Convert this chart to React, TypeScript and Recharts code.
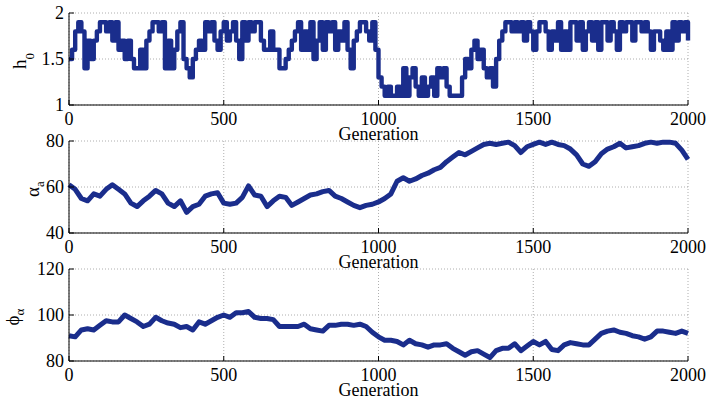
import React from 'react'
import { LineChart, Line, XAxis, YAxis, CartesianGrid } from 'recharts'

// --- sampled traces (h0 every 10 generations, the others every 20) ---
const H0_VALUES = [
  1.5, 1.6, 1.8, 1.9, 1.8, 1.4, 1.7, 1.5, 1.7, 1.8,
  1.9, 1.9, 1.8, 1.9, 1.7, 1.9, 1.6, 1.7, 1.5, 1.7,
  1.5, 1.4, 1.4, 1.6, 1.4, 1.7, 1.8, 1.9, 1.9, 1.8,
  1.9, 1.4, 1.7, 1.4, 1.6, 1.8, 1.9, 1.5, 1.4, 1.3,
  1.5, 1.6, 1.7, 1.6, 1.9, 1.8, 1.9, 1.7, 1.6, 1.8,
  1.9, 1.7, 1.8, 1.9, 1.7, 1.5, 1.9, 1.7, 1.9, 1.8,
  1.9, 1.9, 1.7, 1.6, 1.6, 1.8, 1.6, 1.6, 1.4, 1.4,
  1.5, 1.6, 1.7, 1.8, 1.9, 1.6, 1.8, 1.6, 1.9, 1.5,
  1.7, 1.9, 1.6, 1.9, 1.8, 1.9, 1.6, 1.8, 1.7, 1.9,
  1.6, 1.4, 1.7, 1.8, 1.9, 1.9, 1.8, 1.7, 1.9, 1.6,
  1.3, 1.2, 1.1, 1.2, 1.1, 1.1, 1.2, 1.1, 1.4, 1.1,
  1.3, 1.4, 1.2, 1.1, 1.3, 1.1, 1.2, 1.3, 1.1, 1.4,
  1.3, 1.4, 1.2, 1.1, 1.1, 1.1, 1.1, 1.3, 1.5, 1.4,
  1.6, 1.7, 1.5, 1.6, 1.4, 1.3, 1.4, 1.2, 1.5, 1.7,
  1.8, 1.9, 1.9, 1.8, 1.9, 1.8, 1.9, 1.7, 1.9, 1.8,
  1.6, 1.8, 1.9, 1.9, 1.8, 1.6, 1.8, 1.7, 1.9, 1.6,
  1.8, 1.6, 1.9, 1.9, 1.7, 1.9, 1.6, 1.8, 1.9, 1.7,
  1.9, 1.6, 1.9, 1.9, 1.7, 1.9, 1.8, 1.6, 1.9, 1.8,
  1.9, 1.9, 1.7, 1.9, 1.9, 1.8, 1.9, 1.8, 1.6, 1.8,
  1.8, 1.7, 1.6, 1.8, 1.6, 1.9, 1.7, 1.9, 1.8, 1.9,
  1.7,
]

const ALPHA_VALUES = [
  61, 59, 55, 54, 57, 56, 59, 61, 59, 57,
  53, 51.5, 54, 56, 58.5, 57, 53, 51.5, 54, 49,
  51.5, 52.5, 56, 57, 57.5, 53, 52.5, 53, 55.5, 60.5,
  56.5, 56, 51.5, 54, 56, 55.5, 52, 53.5, 55, 56.5,
  57, 58, 58.5, 56, 55, 53.5, 52, 51, 52, 52.5,
  53.5, 55, 57, 62.5, 64, 62.5, 63.5, 65, 66, 67.5,
  68.5, 71, 73, 75, 74, 75.5, 77, 78.5, 79, 78.5,
  79, 79.5, 78, 75, 77.5, 78.5, 79.5, 78.5, 79.5, 78.5,
  78, 76.5, 74, 70, 69, 71, 74.5, 76.5, 77.5, 79,
  77, 77.5, 78, 79, 79.5, 79, 79.5, 79.5, 79, 76,
  72,
]

const PHI_VALUES = [
  91, 90.5, 93.5, 94, 93.5, 95.5, 97.5, 97, 97, 100,
  98.5, 97, 95, 96, 99, 97.5, 96.5, 96, 94.5, 95,
  93.5, 97, 96, 97.5, 99, 100, 99, 101, 101, 101.5,
  99, 98.5, 98.5, 98, 95, 95, 95, 95, 96, 94,
  93.5, 93, 95.5, 95.5, 96, 96, 95.5, 96, 95, 92.5,
  90.5, 89, 89, 88.5, 87, 89, 87.5, 87, 86, 87,
  87, 87.5, 85.5, 84, 82.5, 84, 84.5, 83, 81.5, 84.5,
  85.5, 85.5, 87.5, 84.5, 86.5, 88.5, 87, 88.5, 85, 84.5,
  87, 88, 87.5, 87, 87, 89.5, 92, 93, 93.5, 92.5,
  92, 91, 90.5, 89.5, 90.5, 93, 93, 92.5, 92, 93,
  92,
]

const GEN_TICKS = [0, 500, 1000, 1500, 2000]
const H0_TICKS = [1, 1.5, 2]
const ALPHA_TICKS = [40, 60, 80]
const PHI_TICKS = [80, 100, 120]

const h0Data = H0_VALUES.map((v, i) => ({ gen: i * 10, v }))
const alphaData = ALPHA_VALUES.map((v, i) => ({ gen: i * 20, v }))
const phiData = PHI_VALUES.map((v, i) => ({ gen: i * 20, v }))

const SERIF = '"Liberation Serif", "Times New Roman", serif'
const BLUE = '#1a2d8c'
const tickStyle = { fill: '#000', fontSize: 18, fontFamily: SERIF }

type PanelProps = {
  top: number
  data: { gen: number; v: number }[]
  ticks: number[]
  step?: boolean
  main: string
  sub: string
  titleX: number
  subDy: number
}

function Panel({ top, data, ticks, step, main, sub, titleX, subDy }: PanelProps) {
  const domain: [number, number] = [ticks[0], ticks[ticks.length - 1]]
  return (
    <div style={{ position: 'absolute', left: 0, top, width: 707, height: 150 }}>
      <LineChart
        width={707}
        height={150}
        data={data}
        margin={{ top: 13, right: 19, bottom: 9, left: 29 }}
      >
        <CartesianGrid
          stroke="#9a9a9a"
          strokeDasharray="1 2"
          strokeWidth={0.8}
        />
        <XAxis
          dataKey="gen"
          type="number"
          domain={[0, 2000]}
          ticks={GEN_TICKS}
          interval={0}
          height={36}
          stroke="#000"
          tickSize={-5}
          tickMargin={12}
          tick={tickStyle}
          label={{
            value: 'Generation',
            position: 'insideBottom',
            offset: 1,
            fill: '#000',
            fontSize: 18,
            fontFamily: SERIF,
          }}
        />
        <XAxis
          xAxisId="top"
          orientation="top"
          dataKey="gen"
          type="number"
          domain={[0, 2000]}
          ticks={GEN_TICKS}
          interval={0}
          height={0}
          stroke="#000"
          tickSize={-5}
          tick={false}
        />
        <YAxis
          type="number"
          domain={domain}
          ticks={ticks}
          interval={0}
          width={40}
          stroke="#000"
          tickSize={-5}
          tickMargin={10}
          tick={tickStyle}
        />
        <YAxis
          yAxisId="right"
          orientation="right"
          type="number"
          domain={domain}
          ticks={ticks}
          interval={0}
          width={0}
          stroke="#000"
          tickSize={-5}
          tick={false}
        />
        <Line
          dataKey="v"
          type={step ? 'stepAfter' : 'linear'}
          stroke={BLUE}
          strokeWidth={step ? 4.4 : 5}
          strokeLinejoin="round"
          dot={false}
          activeDot={false}
          isAnimationActive={false}
        />
      </LineChart>
      <svg
        width={70}
        height={150}
        style={{ position: 'absolute', left: 0, top: 0, pointerEvents: 'none' }}
      >
        <text
          transform={`translate(${titleX},${13 + 46 + 2}) rotate(-90)`}
          textAnchor="middle"
          fontFamily={SERIF}
          fontSize={19}
          fill="#000"
        >
          {main}
          <tspan fontSize={13} dy={subDy}>
            {sub}
          </tspan>
        </text>
      </svg>
    </div>
  )
}

export default function App() {
  return (
    <div
      style={{
        position: 'absolute',
        left: 0,
        top: 0,
        width: 707,
        height: 401,
        background: '#fff',
        overflow: 'hidden',
      }}
    >
      <Panel top={0} data={h0Data} ticks={H0_TICKS} step main="h" sub="0" titleX={25.5} subDy={8} />
      <Panel top={128} data={alphaData} ticks={ALPHA_TICKS} main="α" sub="a" titleX={39} subDy={5} />
      <Panel top={256} data={phiData} ticks={PHI_TICKS} main="ϕ" sub="α" titleX={19} subDy={5} />
    </div>
  )
}
